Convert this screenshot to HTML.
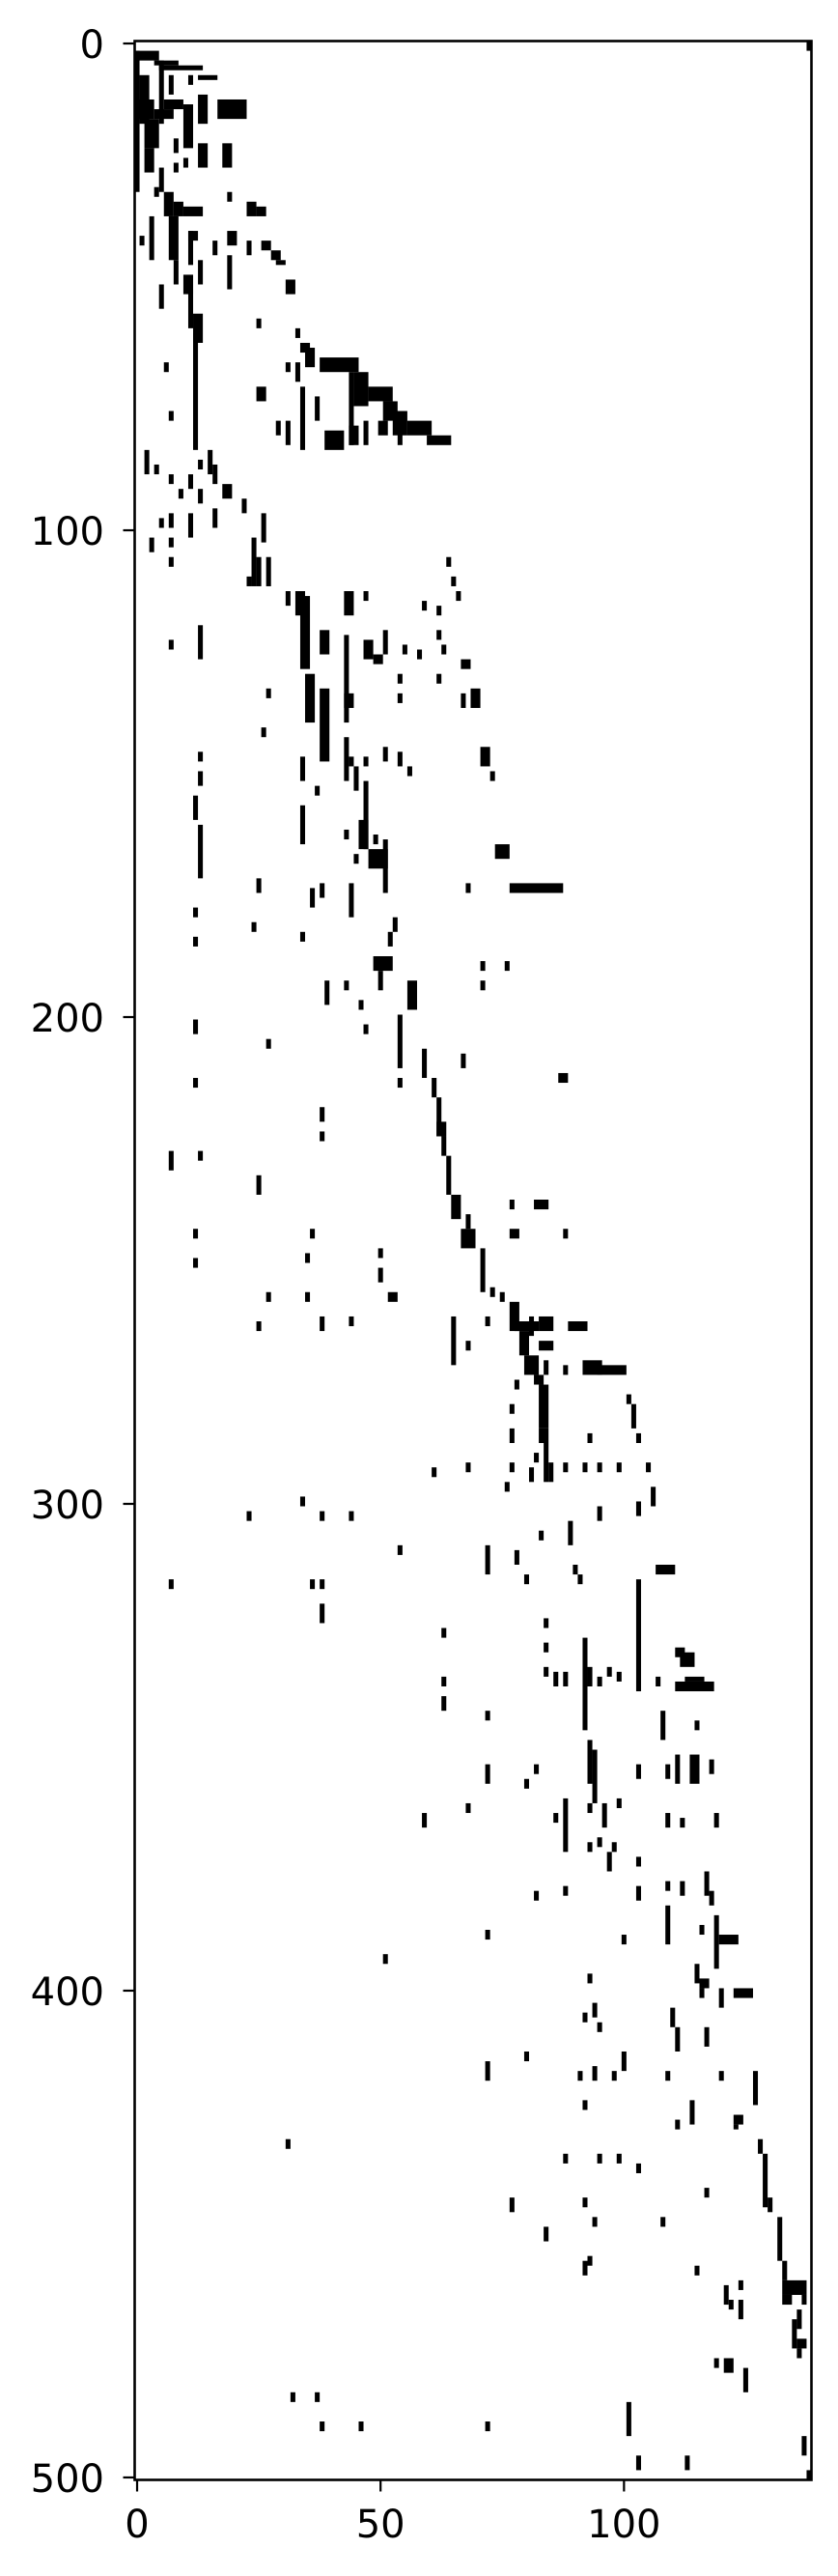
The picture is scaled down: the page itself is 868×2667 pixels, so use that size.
<!DOCTYPE html>
<html><head><meta charset="utf-8"><style>
html,body{margin:0;padding:0;background:#fff;}
svg{display:block;}
text{font-family:"DejaVu Sans","Liberation Sans",sans-serif;font-size:40px;fill:#000;}
</style></head><body>
<svg id="chart" width="868" height="2667" viewBox="0 0 868 2667" xmlns="http://www.w3.org/2000/svg">
<g id="marks"></g>
<g id="axes"></g>
</svg>
<script>
// matrix shape
const nRows = [501];
const nCols = [139];
// nonzero runs: [colStart, colEnd(inclusive), rowStart, rowEnd(exclusive)]
const runs = [
[0,0,2,31],[0,4,2,4],[4,8,4,5],[5,13,5,6],[13,16,7,8],[1,2,7,17],[5,5,4,17],[7,7,7,11],[11,11,7,9],
[13,14,11,17],[17,22,12,16],[1,3,12,16],[6,9,12,14],[4,7,14,16],[10,11,13,22],[2,4,16,22],[8,8,20,23],[13,14,21,26],[18,19,21,26],
[10,10,24,26],[8,8,25,27],[2,3,22,27],[5,5,26,31],[4,4,30,32],[6,7,31,36],[8,9,33,36],[10,13,34,36],[19,19,31,33],
[23,24,33,36],[25,26,34,36],[3,3,36,45],[7,8,36,45],[1,1,40,42],[11,12,39,41],[11,11,39,46],[16,16,41,44],[19,20,39,42],
[23,23,41,44],[26,27,41,43],[28,29,43,45],[29,30,45,46],[8,8,45,50],[13,13,45,50],[19,19,44,51],[5,5,50,55],
[10,11,48,52],[31,32,49,52],[11,11,51,59],[12,13,56,62],[25,25,57,59],[33,33,59,61],[12,12,60,84],
[34,35,62,64],[35,36,63,67],[38,45,65,68],[33,33,66,70],[31,31,66,68],[6,6,66,68],[34,34,71,84],[37,37,73,78],
[44,44,68,83],[45,47,68,75],[48,52,71,74],[51,53,74,78],[53,55,76,81],[56,60,78,81],[60,64,81,83],
[25,26,71,74],[29,29,78,81],[31,31,78,83],[39,42,80,84],[44,45,79,83],[47,47,78,83],[50,51,78,81],
[54,54,79,83],[7,7,76,78],[2,2,84,89],[4,4,87,89],[13,13,86,88],[15,15,84,89],[7,7,89,91],[11,11,89,92],
[16,16,87,91],[9,9,92,94],[13,13,92,95],[18,19,91,94],[22,22,94,97],[5,5,98,100],[7,7,97,100],[11,11,97,102],
[16,16,96,100],[26,26,97,103],[3,3,102,105],[7,7,102,104],[24,24,102,112],[25,25,106,112],[27,27,106,112],
[7,7,106,108],[23,23,110,112],[64,64,106,108],[65,65,110,112],[66,66,113,115],[31,31,113,116],[33,34,113,118],
[34,35,114,129],[43,44,113,118],[47,47,113,115],[59,59,115,117],[62,62,116,118],[62,62,121,123],[13,13,120,127],
[7,7,123,125],[38,39,121,126],[43,43,122,140],[47,48,123,127],[49,50,126,128],[51,51,121,126],[55,55,124,126],
[58,58,125,127],[63,63,124,126],[67,68,127,129],[35,36,130,140],[38,39,133,148],[43,44,134,137],[54,54,130,132],
[54,54,134,136],[62,62,130,132],[27,27,133,135],[67,67,134,137],[69,70,133,137],[26,26,141,143],[43,43,143,152],
[44,44,147,149],[45,45,149,154],[47,47,147,149],[51,51,145,148],[54,54,146,149],[56,56,149,151],[71,72,145,149],
[73,73,150,152],[13,13,146,148],[13,13,150,153],[34,34,147,152],[37,37,153,155],[47,47,152,166],[12,12,155,160],
[34,34,157,165],[13,13,161,172],[43,43,162,164],[46,47,160,166],[49,49,163,165],[48,51,166,170],[51,51,164,175],
[45,45,167,169],[74,76,165,168],[25,25,172,175],[36,36,174,178],[38,38,173,176],[44,44,173,180],[68,68,173,175],
[77,87,173,175],[12,12,178,180],[24,24,181,183],[34,34,183,185],[53,53,180,183],[52,52,183,186],[12,12,184,186],
[49,52,188,191],[50,50,191,195],[71,71,189,191],[71,71,193,195],[76,76,189,191],[39,39,193,198],[43,43,193,195],
[46,46,197,199],[56,57,193,199],[12,12,201,204],[47,47,202,204],[54,54,200,211],[27,27,205,207],[59,59,207,213],
[67,67,208,211],[87,88,212,214],[12,12,213,215],[54,54,213,215],[61,61,213,217],[62,62,217,225],[62,63,222,225],
[63,63,225,229],[38,38,219,222],[38,38,224,226],[7,7,228,232],[13,13,228,230],[64,64,229,237],[25,25,233,237],
[65,66,237,242],[68,68,241,244],[67,69,244,248],[77,77,238,240],[82,84,238,240],[77,78,244,246],[88,88,244,246],
[12,12,244,246],[36,36,244,246],[71,71,248,257],[50,50,248,250],[35,35,249,251],[12,12,250,252],[50,50,252,255],
[73,73,256,258],[75,75,257,259],[27,27,257,259],[35,35,257,259],[52,53,257,259],[77,78,259,265],[78,82,263,265],
[81,81,262,266],[83,85,262,265],[89,92,263,265],[65,65,262,272],[72,72,262,264],[25,25,263,265],[38,38,262,265],
[44,44,262,264],[68,68,267,269],[79,80,265,270],[83,85,267,269],[80,82,270,274],[84,84,271,274],[88,88,272,274],
[92,95,271,274],[95,100,272,274],[82,83,274,276],[83,84,276,285],[78,78,275,277],[77,77,280,282],[101,101,278,280],
[102,102,280,285],[77,77,285,288],[83,84,285,288],[84,84,288,296],[93,93,286,288],[103,103,286,288],[82,82,290,292],
[68,68,292,294],[77,77,292,294],[81,81,293,296],[85,85,292,296],[88,88,292,294],[92,92,292,294],[95,95,292,294],
[99,99,292,294],[105,105,292,294],[61,61,293,295],[76,76,296,298],[106,106,297,301],[34,34,299,301],[23,23,302,304],
[38,38,302,304],[44,44,302,304],[95,95,301,304],[103,103,300,303],[83,83,306,308],[89,89,304,309],[54,54,309,311],
[72,72,309,315],[78,78,310,313],[90,90,313,315],[91,91,315,317],[80,80,315,317],[107,110,313,315],[7,7,316,318],
[36,36,316,318],[38,38,316,318],[38,38,321,325],[103,103,316,339],[84,84,324,326],[63,63,326,328],[84,84,329,331],
[92,92,328,347],[111,112,330,332],[112,114,331,334],[84,84,334,336],[86,86,335,338],[88,88,335,338],[93,93,334,338],
[95,95,336,338],[97,97,334,336],[99,99,335,337],[107,107,336,338],[111,118,337,339],[113,116,336,337],[63,63,336,338],
[63,63,340,343],[72,72,343,345],[108,108,343,349],[115,115,345,347],[93,93,349,358],[94,94,351,362],[72,72,354,358],
[82,82,354,356],[80,80,357,359],[103,103,354,357],[109,109,354,357],[111,111,352,358],[114,115,352,358],[118,118,353,356],
[68,68,362,364],[59,59,364,367],[86,86,364,366],[88,88,361,372],[93,93,362,364],[96,96,362,367],[99,99,361,363],
[109,109,364,367],[112,112,365,367],[119,119,364,367],[93,93,370,372],[95,95,369,371],[98,98,370,372],[97,97,372,376],
[103,103,373,375],[117,117,376,381],[118,118,380,383],[82,82,380,382],[88,88,379,381],[103,103,379,382],[109,109,378,380],
[112,112,378,381],[109,109,383,391],[119,119,385,396],[120,123,389,391],[116,116,387,389],[72,72,388,390],
[100,100,389,391],[51,51,393,395],[115,115,395,399],[116,117,398,400],[116,116,400,402],[120,120,400,404],
[123,126,400,402],[93,93,397,399],[94,94,403,406],[92,92,405,407],[95,95,407,409],[110,110,404,408],[111,111,408,413],
[117,117,408,412],[80,80,413,415],[100,100,413,417],[72,72,415,419],[91,91,417,419],[94,94,416,419],[98,98,417,419],
[109,109,417,419],[120,120,417,419],[127,127,417,424],[92,92,423,425],[114,114,423,428],[111,111,427,429],
[123,124,426,428],[123,123,428,429],[31,31,431,433],[128,128,431,434],[129,129,434,445],[130,130,443,446],
[88,88,434,436],[95,95,434,436],[99,99,434,436],[103,103,436,438],[117,117,441,443],[77,77,443,446],[92,92,443,445],
[94,94,447,449],[108,108,447,449],[84,84,449,452],[132,132,447,456],[133,133,456,460],[93,93,455,457],[92,92,456,459],
[115,115,457,459],[133,137,460,463],[133,134,463,465],[137,137,463,465],[124,124,460,462],[121,121,461,465],
[122,122,464,466],[124,124,464,468],[136,136,466,470],[135,135,468,474],[136,137,472,474],[136,136,474,476],
[119,119,476,478],[121,122,476,479],[125,125,478,483],[32,32,483,485],[37,37,483,485],[38,38,489,491],[46,46,489,491],
[72,72,489,491],[101,101,485,492],[137,137,492,496],[103,103,496,499],[113,113,496,499],[138,138,499,501],[138,138,0,2]
];
// tick values
const yTicks = [0,100,200,300,400,500];
const xTicks = [0,50,100];

const NS = "http://www.w3.org/2000/svg";
const X0 = 139.5, X1 = 840.5, Y0 = 42.5, Y1 = 2567.5;
const cw = (X1 - X0) / nCols[0];
const rh = (Y1 - Y0) / nRows[0];
function xPos(c){ return X0 + c * cw; }
function yPos(r){ return Y0 + r * rh; }

const marks = document.getElementById('marks');
runs.forEach(function(r){
  const el = document.createElementNS(NS,'rect');
  
  
  el.setAttribute('x', xPos(r[0]));
  el.setAttribute('y', yPos(r[2]));
  el.setAttribute('width', (r[1] - r[0] + 1) * cw);
  el.setAttribute('height', (r[3] - r[2]) * rh);
  el.setAttribute('fill', '#000');
  marks.appendChild(el);
});

const axes = document.getElementById('axes');
const frame = document.createElementNS(NS,'rect');


frame.setAttribute('x', X0); frame.setAttribute('y', Y0);
frame.setAttribute('width', X1 - X0); frame.setAttribute('height', Y1 - Y0);
frame.setAttribute('fill', 'none'); frame.setAttribute('stroke', '#000'); frame.setAttribute('stroke-width', '2.6');
axes.appendChild(frame);

yTicks.forEach(function(v){
  const y = yPos(v + 0.5);
  const t = document.createElementNS(NS,'line');
  
  
  t.setAttribute('x1', X0 - 12); t.setAttribute('x2', X0);
  t.setAttribute('y1', y); t.setAttribute('y2', y);
  t.setAttribute('stroke', '#000'); t.setAttribute('stroke-width', '2.2');
  axes.appendChild(t);
  const l = document.createElementNS(NS,'text');
  
  
  l.setAttribute('x', 108); l.setAttribute('y', y + 15);
  l.setAttribute('text-anchor', 'end');
  l.textContent = String(v);
  axes.appendChild(l);
});
xTicks.forEach(function(v){
  const x = xPos(v + 0.5);
  const t = document.createElementNS(NS,'line');
  
  
  t.setAttribute('x1', x); t.setAttribute('x2', x);
  t.setAttribute('y1', Y1); t.setAttribute('y2', Y1 + 12);
  t.setAttribute('stroke', '#000'); t.setAttribute('stroke-width', '2.2');
  axes.appendChild(t);
  const l = document.createElementNS(NS,'text');
  
  
  l.setAttribute('x', x); l.setAttribute('y', 2627);
  l.setAttribute('text-anchor', 'middle');
  l.textContent = String(v);
  axes.appendChild(l);
});
</script>
</body></html>
